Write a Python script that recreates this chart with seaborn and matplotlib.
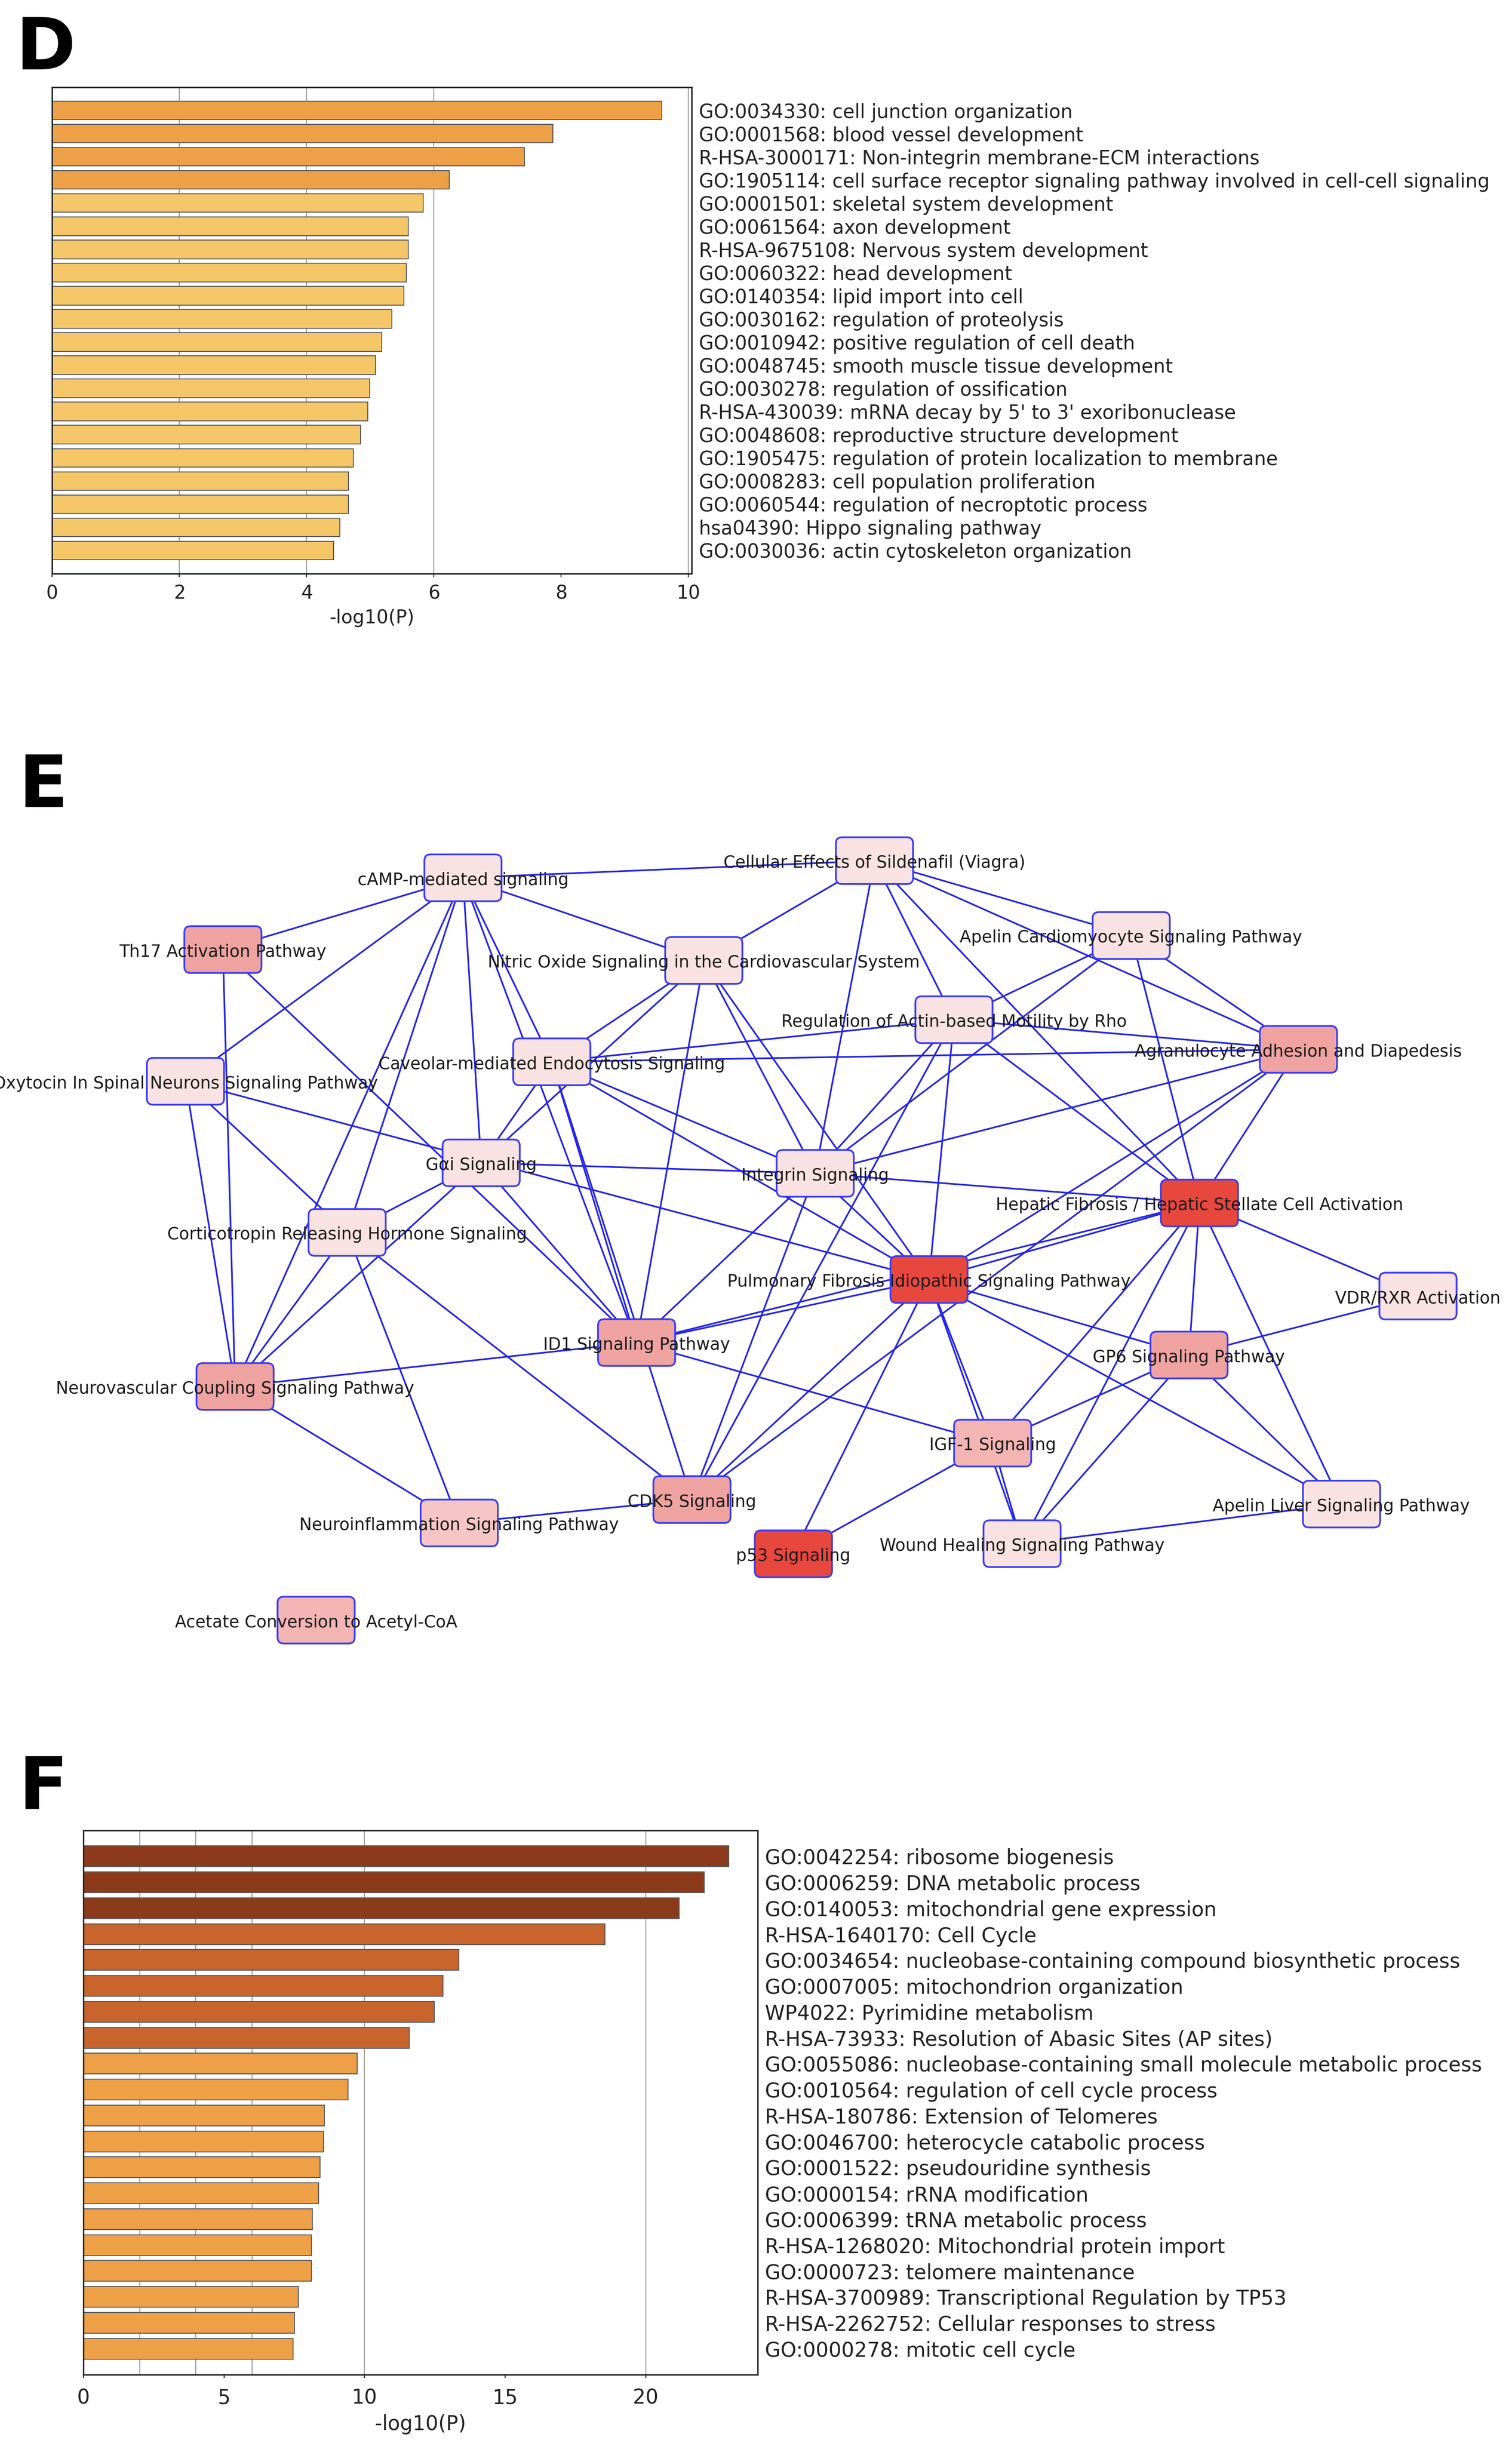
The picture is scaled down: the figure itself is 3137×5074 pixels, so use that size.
import matplotlib
matplotlib.use('Agg')
import matplotlib.pyplot as plt
from matplotlib.patches import FancyBboxPatch
import seaborn as sns
import pandas as pd

# ---- panel D : enrichment bar chart ----
d_terms = [
    "GO:0034330: cell junction organization",
    "GO:0001568: blood vessel development",
    "R-HSA-3000171: Non-integrin membrane-ECM interactions",
    "GO:1905114: cell surface receptor signaling pathway involved in cell-cell signaling",
    "GO:0001501: skeletal system development",
    "GO:0061564: axon development",
    "R-HSA-9675108: Nervous system development",
    "GO:0060322: head development",
    "GO:0140354: lipid import into cell",
    "GO:0030162: regulation of proteolysis",
    "GO:0010942: positive regulation of cell death",
    "GO:0048745: smooth muscle tissue development",
    "GO:0030278: regulation of ossification",
    "R-HSA-430039: mRNA decay by 5' to 3' exoribonuclease",
    "GO:0048608: reproductive structure development",
    "GO:1905475: regulation of protein localization to membrane",
    "GO:0008283: cell population proliferation",
    "GO:0060544: regulation of necroptotic process",
    "hsa04390: Hippo signaling pathway",
    "GO:0030036: actin cytoskeleton organization",
]
d_values = [9.58, 7.87, 7.42, 6.24, 5.83, 5.60, 5.60, 5.57, 5.53, 5.34,
            5.18, 5.08, 4.99, 4.96, 4.85, 4.73, 4.66, 4.66, 4.52, 4.42]
d_level = [1, 1, 1, 1, 0, 0, 0, 0, 0, 0, 0, 0, 0, 0, 0, 0, 0, 0, 0, 0]
d_ticks = [0, 2, 4, 6, 8, 10]
d_grid = [2, 4, 6, 10]

# ---- panel F : enrichment bar chart ----
f_terms = [
    "GO:0042254: ribosome biogenesis",
    "GO:0006259: DNA metabolic process",
    "GO:0140053: mitochondrial gene expression",
    "R-HSA-1640170: Cell Cycle",
    "GO:0034654: nucleobase-containing compound biosynthetic process",
    "GO:0007005: mitochondrion organization",
    "WP4022: Pyrimidine metabolism",
    "R-HSA-73933: Resolution of Abasic Sites (AP sites)",
    "GO:0055086: nucleobase-containing small molecule metabolic process",
    "GO:0010564: regulation of cell cycle process",
    "R-HSA-180786: Extension of Telomeres",
    "GO:0046700: heterocycle catabolic process",
    "GO:0001522: pseudouridine synthesis",
    "GO:0000154: rRNA modification",
    "GO:0006399: tRNA metabolic process",
    "R-HSA-1268020: Mitochondrial protein import",
    "GO:0000723: telomere maintenance",
    "R-HSA-3700989: Transcriptional Regulation by TP53",
    "R-HSA-2262752: Cellular responses to stress",
    "GO:0000278: mitotic cell cycle",
]
f_values = [22.96, 22.07, 21.19, 18.55, 13.35, 12.79, 12.48, 11.58, 9.73, 9.41,
            8.57, 8.54, 8.42, 8.36, 8.15, 8.10, 8.10, 7.65, 7.51, 7.45]
f_level = [3, 3, 3, 2, 2, 2, 2, 2, 1, 1, 1, 1, 1, 1, 1, 1, 1, 1, 1, 1]
f_ticks = [0, 5, 10, 15, 20]
f_grid = [2, 4, 6, 10, 20]

bar_palette = {0: "#F4C668", 1: "#EEA047", 2: "#C9642C", 3: "#8C3A19"}

# ---- panel E : pathway network ----
node_id = ["cAMP", "SIL", "TH17", "NO", "APC", "RHO", "AGR", "CAV", "OXY", "GAI",
           "INT", "HEP", "CRH", "PUL", "VDR", "ID1", "GP6", "NVC", "IGF", "CDK5",
           "NEU", "P53", "WH", "APL", "ACE"]
node_label = [
    "cAMP-mediated signaling",
    "Cellular Effects of Sildenafil (Viagra)",
    "Th17 Activation Pathway",
    "Nitric Oxide Signaling in the Cardiovascular System",
    "Apelin Cardiomyocyte Signaling Pathway",
    "Regulation of Actin-based Motility by Rho",
    "Agranulocyte Adhesion and Diapedesis",
    "Caveolar-mediated Endocytosis Signaling",
    "Oxytocin In Spinal Neurons Signaling Pathway",
    "G\u03b1i Signaling",
    "Integrin Signaling",
    "Hepatic Fibrosis / Hepatic Stellate Cell Activation",
    "Corticotropin Releasing Hormone Signaling",
    "Pulmonary Fibrosis Idiopathic Signaling Pathway",
    "VDR/RXR Activation",
    "ID1 Signaling Pathway",
    "GP6 Signaling Pathway",
    "Neurovascular Coupling Signaling Pathway",
    "IGF-1 Signaling",
    "CDK5 Signaling",
    "Neuroinflammation Signaling Pathway",
    "p53 Signaling",
    "Wound Healing Signaling Pathway",
    "Apelin Liver Signaling Pathway",
    "Acetate Conversion to Acetyl-CoA",
]
node_x = [297, 561, 143, 451.5, 725.7, 612, 833, 354, 119, 308.7,
          523, 769.5, 222.7, 596, 909.7, 408.4, 762.8, 150.8, 636.8, 443.9,
          294.6, 509, 655.7, 860.6, 202.8]
node_y = [563, 552, 609, 616, 600, 654, 673, 681, 693.5, 745.8,
          752.5, 771.5, 790.4, 820.6, 831.2, 861, 869, 889.2, 925.5, 961.7,
          976.7, 996.5, 990, 964.6, 1039]
node_level = ["light", "light", "mid", "light", "light", "light", "mid", "light", "light", "light",
              "light", "high", "light", "high", "light", "mid", "mid", "mid", "low", "mid",
              "pale", "high", "light", "light", "low"]
edges = [
    ("cAMP", "SIL"), ("cAMP", "TH17"), ("cAMP", "OXY"), ("cAMP", "CRH"), ("cAMP", "NVC"),
    ("cAMP", "GAI"), ("cAMP", "CAV"), ("cAMP", "NO"), ("cAMP", "ID1"),
    ("TH17", "NVC"), ("TH17", "ID1"),
    ("OXY", "NVC"), ("OXY", "CRH"), ("OXY", "PUL"),
    ("SIL", "NO"), ("SIL", "INT"), ("SIL", "RHO"), ("SIL", "HEP"), ("SIL", "APC"), ("SIL", "AGR"),
    ("NO", "CAV"), ("NO", "GAI"), ("NO", "ID1"), ("NO", "INT"), ("NO", "PUL"),
    ("APC", "RHO"), ("APC", "INT"), ("APC", "AGR"), ("APC", "HEP"),
    ("RHO", "CAV"), ("RHO", "AGR"), ("RHO", "INT"), ("RHO", "CDK5"), ("RHO", "PUL"), ("RHO", "HEP"),
    ("AGR", "CAV"), ("AGR", "HEP"), ("AGR", "PUL"), ("AGR", "INT"), ("AGR", "CDK5"),
    ("CAV", "GAI"), ("CAV", "ID1"), ("CAV", "CDK5"), ("CAV", "INT"), ("CAV", "PUL"),
    ("GAI", "INT"), ("GAI", "CRH"), ("GAI", "NVC"), ("GAI", "ID1"),
    ("INT", "HEP"), ("INT", "ID1"), ("INT", "CDK5"), ("INT", "PUL"),
    ("HEP", "VDR"), ("HEP", "IGF"), ("HEP", "WH"), ("HEP", "GP6"), ("HEP", "APL"),
    ("HEP", "PUL"), ("HEP", "ID1"),
    ("CRH", "NVC"), ("CRH", "NEU"), ("CRH", "CDK5"),
    ("PUL", "ID1"), ("PUL", "GP6"), ("PUL", "CDK5"), ("PUL", "P53"), ("PUL", "IGF"),
    ("PUL", "WH"), ("PUL", "APL"),
    ("VDR", "GP6"), ("ID1", "NVC"), ("ID1", "IGF"),
    ("GP6", "IGF"), ("GP6", "WH"), ("GP6", "APL"),
    ("NVC", "NEU"), ("IGF", "P53"), ("IGF", "WH"), ("CDK5", "NEU"), ("WH", "APL"),
]
node_palette = {"light": "#F9E2E2", "pale": "#F5C6C5", "low": "#F2B5B3",
                "mid": "#EFA3A0", "high": "#E8473E"}

sns.set_style("white")
plt.rcParams['font.family'] = ['DejaVu Sans']

W, H = 3137, 5074
fig = plt.figure(figsize=(W / 100, H / 100), dpi=100)


def px_rect(left, top, right, bottom):
    return [left / W, 1 - bottom / H, (right - left) / W, (bottom - top) / H]


def bar_panel(rect, terms, values, levels, xmax, ticks, grid, lab_size, tick_size, tick_pad, lpad):
    ax = fig.add_axes(rect)
    df = pd.DataFrame({"term": terms, "value": values})
    pal = {t: bar_palette[l] for t, l in zip(terms, levels)}
    for g in grid:
        ax.axvline(g, color="#a0a0a0", lw=1.5, zorder=0)
    sns.barplot(data=df, x="value", y="term", hue="term", palette=pal, legend=False,
                orient="h", width=0.8, saturation=1, edgecolor="#5a5a5a",
                linewidth=1.4, ax=ax, zorder=2)
    ax.set_xlim(0, xmax)
    ax.set_ylim(len(terms), -1)
    ax.set_xticks(ticks)
    ax.set_ylabel("")
    ax.set_xlabel("-log10(P)", fontsize=tick_size, color="#222222", labelpad=lpad)
    ax.yaxis.tick_right()
    ax.tick_params(axis="y", length=0, pad=11, labelsize=lab_size, labelcolor="#222222")
    ax.tick_params(axis="x", length=5, width=1.5, pad=tick_pad, labelsize=tick_size,
                   labelcolor="#222222", bottom=True)
    for s in ax.spines.values():
        s.set_visible(True)
        s.set_color("#2a2a2a")
        s.set_linewidth(2.2)
    return ax


bar_panel(px_rect(108, 181, 1435, 1190), d_terms, d_values, d_level, 10.05,
          d_ticks, d_grid, 28.5, 28, 11, 9)
bar_panel(px_rect(173, 3797, 1572, 4926), f_terms, f_values, f_level, 23.98,
          f_ticks, f_grid, 30.2, 30, 15, 9)

# network
axn = fig.add_axes(px_rect(0, 1698, W, 3419))
axn.set_xlim(0, 970)
axn.set_ylim(1057, 525)
axn.axis("off")
pos = {n: (x, y) for n, x, y in zip(node_id, node_x, node_y)}
for a, b in edges:
    axn.plot([pos[a][0], pos[b][0]], [pos[a][1], pos[b][1]], color="#2424E6",
             lw=2.5, zorder=1, solid_capstyle="round")
bw, bh = 49.5, 30
for n, lab, lev in zip(node_id, node_label, node_level):
    x, y = pos[n]
    box = FancyBboxPatch((x - bw / 2, y - bh / 2), bw, bh,
                         boxstyle="round,pad=0,rounding_size=4",
                         fc=node_palette[lev], ec="#3C3CF2", lw=2.6, zorder=2)
    axn.add_patch(box)
    axn.text(x, y + 1.5, lab, ha="center", va="center", fontsize=25,
             color="#1a1a1a", zorder=3, clip_on=False)

# panel letters
for letter, lx, ly in [("D", 32, 30), ("E", 38, 1560), ("F", 38, 3637)]:
    fig.text(lx / W, 1 - ly / H, letter, ha="left", va="top", fontsize=108,
             fontweight="bold", color="black")

fig.savefig("out.png", dpi=100, facecolor="white")
